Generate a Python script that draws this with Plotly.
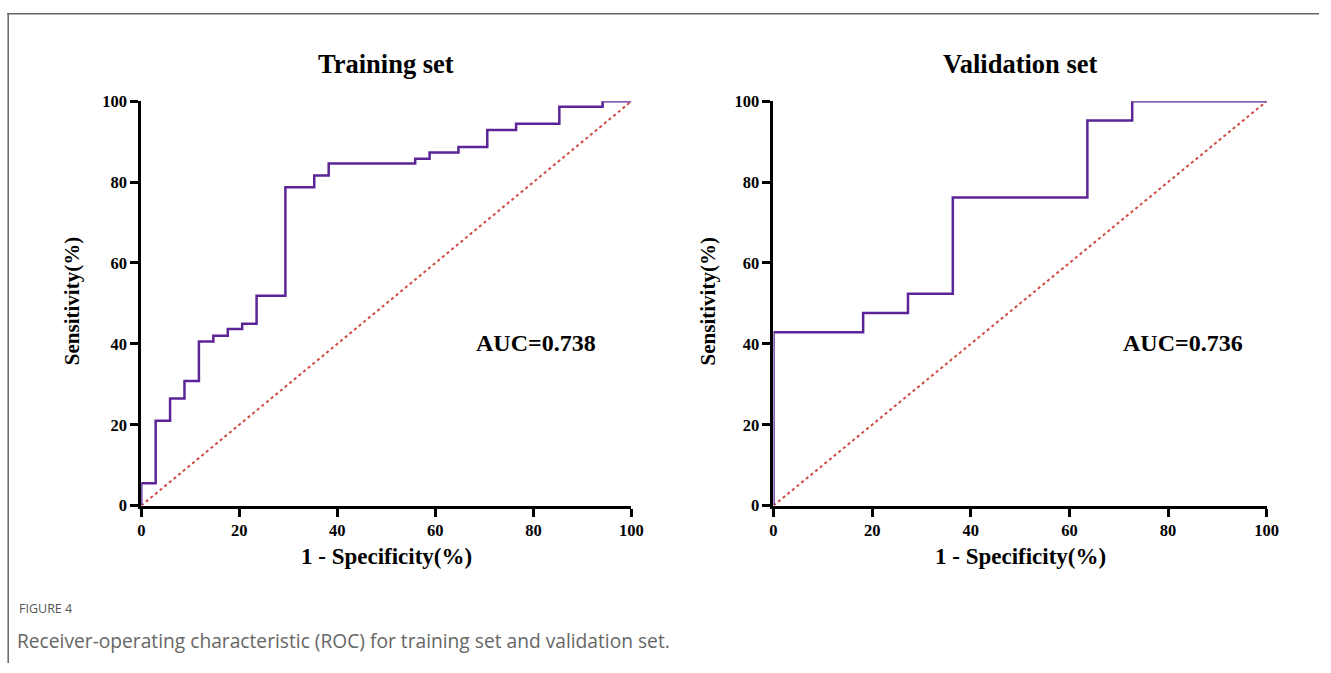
import plotly.graph_objects as go

# Training set ROC (1 - specificity %, sensitivity %)
train_fpr = [0, 0, 2.94, 2.94, 5.88, 5.88, 8.82, 8.82, 11.76, 11.76, 14.71, 14.71, 17.65, 17.65,
             20.59, 20.59, 23.53, 23.53, 29.41, 29.41, 35.29, 35.29, 38.24, 38.24, 55.88, 55.88,
             58.82, 58.82, 64.71, 64.71, 70.59, 70.59, 76.47, 76.47, 85.29, 85.29, 94.12, 94.12, 100]
train_tpr = [0, 5.5, 5.5, 21.0, 21.0, 26.5, 26.5, 30.8, 30.8, 40.6, 40.6, 42.0, 42.0, 43.7,
             43.7, 45.0, 45.0, 51.9, 51.9, 78.7, 78.7, 81.6, 81.6, 84.6, 84.6, 85.8,
             85.8, 87.3, 87.3, 88.7, 88.7, 92.9, 92.9, 94.4, 94.4, 98.6, 98.6, 100, 100]

# Validation set ROC
valid_fpr = [0, 0, 18.18, 18.18, 27.27, 27.27, 36.36, 36.36, 63.64, 63.64, 72.73, 72.73, 100]
valid_tpr = [0, 42.9, 42.9, 47.6, 47.6, 52.4, 52.4, 76.2, 76.2, 95.2, 95.2, 100, 100]

ref_line = [0, 100]
panel_titles = ["Training set", "Validation set"]
auc_labels = ["AUC=0.738", "AUC=0.736"]
tick_vals = [0, 20, 40, 60, 80, 100]

W, H = 1331, 673
# map target-picture pixel positions to paper fractions (compensates capture offset/scale)
SX, OX = 0.9876, 4.8
SY, OY = 0.978, 7.2
def px_x(p):
    return ((p - OX) / SX) / W
def px_y(p):
    return 1 - ((p - OY) / SY) / H

SERIF = "Liberation Serif"
CURVE = "#5b2597"
DIAG = "#cf4a42"

fig = go.Figure()

panels = [
    dict(fpr=train_fpr, tpr=train_tpr, xa="x", ya="y", x0=142, x1=632, lab=73, auc_x=537),
    dict(fpr=valid_fpr, tpr=valid_tpr, xa="x2", ya="y2", x0=774, x1=1267, lab=708, auc_x=1183),
]
y_top, y_bot = 100, 507

for i, p in enumerate(panels):
    fig.add_trace(go.Scatter(x=ref_line, y=ref_line, mode="lines", xaxis=p["xa"], yaxis=p["ya"],
                             line=dict(color=DIAG, width=2, dash="dot"), cliponaxis=False,
                             showlegend=False, hoverinfo="skip"))
    fig.add_trace(go.Scatter(x=p["fpr"], y=p["tpr"], mode="lines", xaxis=p["xa"], yaxis=p["ya"],
                             line=dict(color=CURVE, width=2.5), cliponaxis=False,
                             showlegend=False))

axis_common = dict(range=[0, 100], tickvals=tick_vals, showgrid=False, zeroline=False,
                   showline=True, linecolor="black", linewidth=3, ticks="outside",
                   ticklen=8, tickwidth=3, tickcolor="black",
                   tickfont=dict(family=SERIF, size=16.5, color="black", weight="bold"))

fig.update_layout(
    autosize=True, margin=dict(l=0, r=0, t=0, b=0),
    paper_bgcolor="white", plot_bgcolor="white",
    xaxis=dict(domain=[px_x(142), px_x(632)], anchor="y", **axis_common),
    yaxis=dict(domain=[px_y(y_bot), px_y(y_top)], anchor="x", **axis_common),
    xaxis2=dict(domain=[px_x(774), px_x(1267)], anchor="y2", **axis_common),
    yaxis2=dict(domain=[px_y(y_bot), px_y(y_top)], anchor="x2", **axis_common),
)

annots = []
for i, p in enumerate(panels):
    cx = (p["x0"] + p["x1"]) / 2
    annots.append(dict(text=panel_titles[i], x=px_x(cx), y=px_y(63), xref="paper", yref="paper",
                       showarrow=False, xanchor="center", yanchor="middle",
                       font=dict(family=SERIF, size=26.5, color="black", weight="bold")))
    annots.append(dict(text="1 - Specificity(%)", x=px_x(cx), y=px_y(558), xref="paper", yref="paper",
                       showarrow=False, xanchor="center", yanchor="middle",
                       font=dict(family=SERIF, size=23, color="black", weight="bold")))
    annots.append(dict(text="Sensitivity(%)", x=px_x(p["lab"]), y=px_y(301), xref="paper", yref="paper",
                       showarrow=False, xanchor="center", yanchor="middle", textangle=-90,
                       font=dict(family=SERIF, size=21, color="black", weight="bold")))
    annots.append(dict(text=auc_labels[i], x=px_x(p["auc_x"]), y=px_y(343),
                       xref="paper", yref="paper", showarrow=False,
                       xanchor="center", yanchor="middle",
                       font=dict(family=SERIF, size=24, color="black", weight="bold")))

annots.append(dict(text="FIGURE 4", x=px_x(18), y=px_y(611), xref="paper", yref="paper",
                   showarrow=False, xanchor="left", yanchor="middle",
                   font=dict(family="Open Sans", size=12.5, color="#555555")))
annots.append(dict(text="Receiver-operating characteristic (ROC) for training set and validation set.",
                   x=px_x(16), y=px_y(643), xref="paper", yref="paper",
                   showarrow=False, xanchor="left", yanchor="middle",
                   font=dict(family="Open Sans", size=19.2, color="#666666")))
fig.update_layout(annotations=annots)

fig.update_layout(shapes=[
    dict(type="line", xref="paper", yref="paper", x0=px_x(8), x1=1, y0=px_y(12), y1=px_y(12),
         line=dict(color="#666666", width=1.5)),
    dict(type="line", xref="paper", yref="paper", x0=px_x(9), x1=px_x(9), y0=0, y1=px_y(12),
         line=dict(color="#666666", width=1.5)),
])

fig.write_html("out.html",
               config={"displayModeBar": False, "responsive": True},
               default_width="100vw", default_height="100vh",
               post_script="document.body.style.margin='0px';document.body.style.overflow='hidden';"
                           "window.dispatchEvent(new Event('resize'));")
